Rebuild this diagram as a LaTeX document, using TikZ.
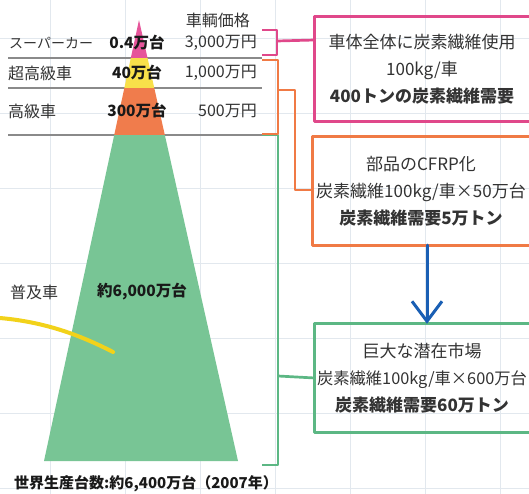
\documentclass[tikz,border=0pt]{standalone}
\usepackage{fontspec}
\setmainfont{Noto Sans CJK JP}
\usetikzlibrary{arrows.meta}
\definecolor{gridc}{HTML}{E2E8EE}
\definecolor{sepc}{HTML}{8A8A8A}
\definecolor{txt}{HTML}{333333}
\definecolor{pinkF}{HTML}{E6559A}
\definecolor{yelF}{HTML}{F8E04A}
\definecolor{oraF}{HTML}{F07C4C}
\definecolor{greF}{HTML}{78C595}
\definecolor{pinkS}{HTML}{E0488A}
\definecolor{oraS}{HTML}{F07A45}
\definecolor{greS}{HTML}{5CB784}
\definecolor{blueA}{HTML}{1A5FB4}
\definecolor{yelC}{HTML}{F2D21A}
\tikzset{
  tbl/.style={inner sep=0pt, text=txt, font=\fontsize{16}{18}\selectfont},
  tblb/.style={inner sep=0pt, text=black!90, font=\fontsize{15.5}{18}\selectfont\bfseries},
  boxtxt/.style={inner sep=0pt, text=txt, align=center, font=\fontsize{17}{27}\selectfont},
  sepline/.style={sepc, line width=1.3pt},
  brk/.style={line width=2.7pt, line join=round},
}
\begin{document}
\begin{tikzpicture}[x=1pt,y=-1pt]
\useasboundingbox (0,0) rectangle (529,494);
\fill[white] (0,0) rectangle (529,494);
% grid
\foreach \gx in {50,125,...,500} \draw[gridc, line width=0.8pt] (\gx,0) -- (\gx,494);
\foreach \gy in {38,113,...,488} \draw[gridc, line width=0.8pt] (0,\gy) -- (529,\gy);
% separators
\draw[sepline] (8,58) -- (262,58);
\draw[sepline] (8,88) -- (262,88);
\draw[sepline] (8,135) -- (262,135);
% pyramid
\begin{scope}
\clip (139,20) -- (238,461) -- (44,461) -- cycle;
\fill[pinkF] (0,0) rectangle (300,58);
\fill[yelF] (0,58) rectangle (300,88);
\fill[oraF] (0,88) rectangle (300,135);
\fill[greF] (0,135) rectangle (300,470);
\end{scope}
% yellow curve
\draw[yelC, line width=4pt, line cap=round] (0,318) .. controls (45,322) and (80,335) .. (113,352);
% table texts
\node[tbl, anchor=east] (hdr) at (250,20) {車輌価格};
\node[tbl, anchor=west, font=\fontsize{14}{18}\selectfont] (r1a) at (9,43) {スーパーカー};
\node[tblb] (r1b) at (137,43) {0.4万台};
\node[tbl, anchor=east] (r1c) at (257,43) {3,000万円};
\node[tbl, anchor=west] (r2a) at (8,73) {超高級車};
\node[tblb] (r2b) at (137,73) {40万台};
\node[tbl, anchor=east] (r2c) at (257,73) {1,000万円};
\node[tbl, anchor=west] (r3a) at (8,111) {高級車};
\node[tblb] (r3b) at (137,111) {300万台};
\node[tbl, anchor=east] (r3c) at (257,111) {500万円};
\node[tbl, anchor=west] (r4a) at (10,292) {普及車};
\node[tblb] (r4b) at (142,292) {約6,000万台};
\node[tblb, anchor=west, font=\fontsize{15}{18}\selectfont\bfseries] (total) at (14,484) {世界生産台数:約6,400万台（2007年）};
% boxes
\node[boxtxt, minimum width=214pt, minimum height=104pt] (pbox) at (422,69)
  {車体全体に炭素繊維使用\\100kg/車\\\textbf{400トンの炭素繊維需要}};
\node[boxtxt, minimum width=216pt, minimum height=108pt] (obox) at (421,191)
  {部品のCFRP化\\炭素繊維100kg/車×50万台\\\textbf{炭素繊維需要5万トン}};
\node[boxtxt, minimum width=214pt, minimum height=108pt] (gbox) at (422,378)
  {巨大な潜在市場\\{\fontsize{16.3}{27}\selectfont 炭素繊維100kg/車×600万台}\\\textbf{炭素繊維需要60万トン}};
\draw[pinkS, brk] ([xshift=10pt]pbox.north east) -- (pbox.north west) -- (pbox.south west) -- ([xshift=10pt]pbox.south east);
\draw[oraS, brk] ([xshift=10pt]obox.north east) -- (obox.north west) -- (obox.south west) -- ([xshift=10pt]obox.south east);
\draw[greS, brk] ([xshift=10pt]gbox.north east) -- (gbox.north west) -- (gbox.south west) -- ([xshift=10pt]gbox.south east);
% brackets
\coordinate (gb1) at (262,135);
\coordinate (gb2) at (278,135);
\coordinate (gb3) at (278,465);
\coordinate (gb4) at (262,465);
\draw[greS, brk] (gb1) -- (gb2) -- (gb3) -- (gb4);
\draw[greS, brk] (278,376) -- (gbox.west);
\coordinate (ob1) at (262,60);
\coordinate (ob2) at (278,60);
\coordinate (ob3) at (278,134);
\coordinate (ob4) at (262,134);
\draw[oraS, brk] (ob1) -- (ob2) -- (ob3) -- (ob4);
\draw[oraS, brk] (278,90) -- (295,90) -- (295,190) -- (obox.west |- 0,190);
\coordinate (pb1) at (262,30);
\coordinate (pb2) at (277,30);
\coordinate (pb3) at (277,55);
\coordinate (pb4) at (262,55);
\draw[pinkS, brk] (pb1) -- (pb2) -- (pb3) -- (pb4);
\draw[pinkS, brk] (277,41) -- (pbox.west |- 0,40);
% blue arrow
\draw[blueA, line width=3pt, line cap=round, -{Straight Barb[length=20pt, width=30pt, line width=3pt]}] (obox.south -| 427,0) -- (gbox.north -| 427,0);
\end{tikzpicture}
\end{document}
